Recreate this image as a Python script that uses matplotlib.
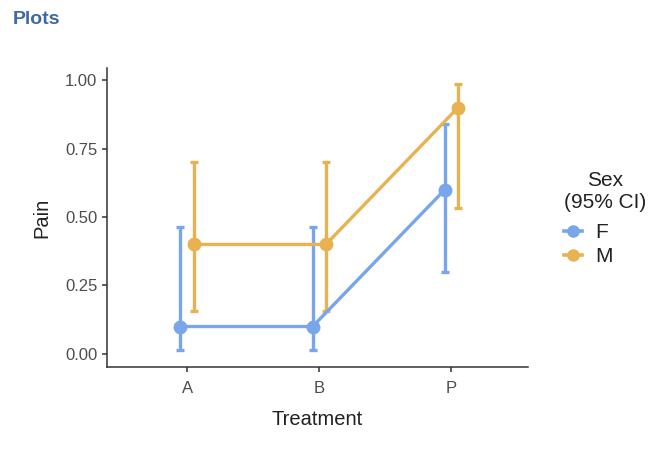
import matplotlib
matplotlib.use("Agg")
import matplotlib.pyplot as plt
from matplotlib.lines import Line2D
import numpy as np

plt.rcParams['font.family'] = ['Liberation Sans', 'DejaVu Sans']

treatments = ["A", "B", "P"]
sexes = ["F", "M"]
pain_mean = {"F": [0.10, 0.10, 0.60], "M": [0.40, 0.40, 0.90]}
ci_low = {"F": [0.015, 0.015, 0.30], "M": [0.157, 0.157, 0.535]}
ci_high = {"F": [0.465, 0.465, 0.839], "M": [0.703, 0.703, 0.985]}
colors = {"F": "#79A5EA", "M": "#E8B250"}
dodge = {"F": -0.05, "M": 0.05}

fig = plt.figure(figsize=(6.7, 4.65), dpi=100)
ax = fig.add_axes([107/670, 1-367/465, (528-107)/670, (367-68)/465])

xpos = np.arange(1, len(treatments)+1)
for s in sexes:
    x = xpos + dodge[s]
    m = np.array(pain_mean[s]); lo = np.array(ci_low[s]); hi = np.array(ci_high[s])
    ax.errorbar(x, m, yerr=[m-lo, hi-m], color=colors[s], lw=2.4, elinewidth=2.4,
                capsize=3, capthick=2.4, marker='o', ms=9, zorder=3)

ax.set_xlim(0.394, 3.58)
ax.set_ylim(-0.048, 1.045)
ax.set_xticks(xpos)
ax.set_xticklabels(treatments)
ax.set_yticks([0, 0.25, 0.5, 0.75, 1.0])
ax.set_yticklabels(["0.00", "0.25", "0.50", "0.75", "1.00"])
for sp in ["top", "right"]:
    ax.spines[sp].set_visible(False)
for sp in ["left", "bottom"]:
    ax.spines[sp].set_color("#333333")
    ax.spines[sp].set_linewidth(1.1)
ax.tick_params(axis='both', colors="#333333", labelcolor="#4d4d4d", labelsize=12,
               length=3.5, width=1.1)
ax.tick_params(axis='x', pad=6.5)
ax.set_xlabel("Treatment", fontsize=14.5, color="#222222", labelpad=10)
ax.set_ylabel("Pain", fontsize=14.5, color="#222222", labelpad=10)

fig.text(13/670, 1-20/465, "Plots", fontsize=14, fontweight='bold', color="#3D69A9",
         va='center', ha='left')

# Legend
fig.text(605/670, 1-180/465, "Sex", fontsize=15, color="#222222", ha='center', va='center')
fig.text(605/670, 1-203/465, "(95% CI)", fontsize=15, color="#222222", ha='center', va='center')
handles = [Line2D([], [], color=colors[s], lw=2.6, marker='o', ms=8) for s in sexes]
leg = fig.legend(handles, sexes, loc='upper left', bbox_to_anchor=(564/670, 1-223/465),
                 frameon=False, fontsize=15, handlelength=0.87, handletextpad=0.65,
                 labelspacing=0.25, borderaxespad=0, borderpad=0)
for t in leg.get_texts():
    t.set_color("#222222")

fig.savefig("out.png", dpi=100)
